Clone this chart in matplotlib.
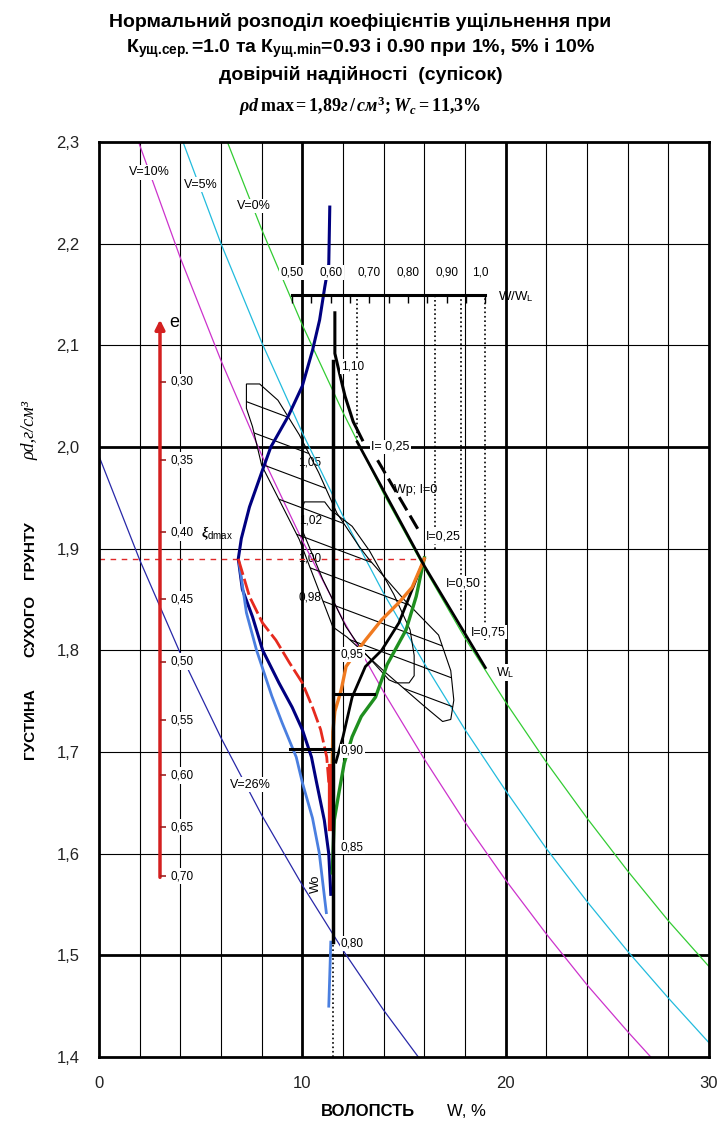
import matplotlib
matplotlib.use('Agg')
import matplotlib.pyplot as plt
from matplotlib import font_manager
from matplotlib.patches import Polygon
import numpy as np

names = {f.name for f in font_manager.fontManager.ttflist}
NARROW = 'Liberation Sans Narrow' if 'Liberation Sans Narrow' in names else 'Liberation Sans'
SANS = 'Liberation Sans'
SERIF = 'Liberation Serif'

plt.rcParams['font.family'] = [SANS, 'DejaVu Sans']
plt.rcParams['mathtext.fontset'] = 'custom'
plt.rcParams['mathtext.rm'] = SERIF + ':bold'
plt.rcParams['mathtext.it'] = SERIF + ':italic:bold'
plt.rcParams['mathtext.bf'] = SERIF + ':bold'

# ---------- saturation lines (W, %  ->  rho_d) ----------
v0_w = [6, 8, 10, 12, 14, 16, 18, 20, 22, 24, 26, 28, 30]
v0_rho = [2.316, 2.214, 2.120, 2.034, 1.954, 1.881, 1.812, 1.749, 1.690, 1.635, 1.583, 1.534, 1.489]
v5_w = [2, 4, 6, 8, 10, 12, 14, 16, 18, 20, 22, 24, 26, 28, 30]
v5_rho = [2.425, 2.307, 2.200, 2.103, 2.014, 1.932, 1.856, 1.787, 1.722, 1.662, 1.605, 1.553, 1.504, 1.458, 1.414]
v10_w = [0, 2, 4, 6, 8, 10, 12, 14, 16, 18, 20, 22, 24, 26, 28]
v10_rho = [2.421, 2.297, 2.186, 2.085, 1.992, 1.908, 1.830, 1.759, 1.693, 1.631, 1.574, 1.521, 1.471, 1.425, 1.381]
v26_w = [0, 2, 4, 6, 8, 10, 12, 14, 16]
v26_rho = [1.991, 1.889, 1.797, 1.714, 1.638, 1.569, 1.505, 1.446, 1.392]

v_labels = ['V=0%', 'V=5%', 'V=10%', 'V=26%']
v_label_x = [7.6, 5.0, 2.5, 7.45]
v_label_y = [2.237, 2.258, 2.270, 1.668]

# ---------- void ratio scale ----------
e_vals = [0.30, 0.35, 0.40, 0.45, 0.50, 0.55, 0.60, 0.65, 0.70]
e_rho = [2.064, 1.987, 1.916, 1.850, 1.789, 1.731, 1.677, 1.626, 1.578]
e_arrow_x = 3.0
e_arrow_y = (1.574, 2.128)

# ---------- W/WL scale ----------
wl_ratio = [0.50, 0.60, 0.70, 0.80, 0.90, 1.0]
wl_label_x = [9.5, 11.4, 13.3, 15.2, 17.1, 18.75]
wl_line_x = (9.5, 19.0)
wl_line_y = 2.15
wl_minor_x = [9.5, 10.45, 11.4, 12.35, 13.3, 14.25, 15.2, 16.15, 17.1, 18.05, 19.0]
dotted_x = [12.7, 16.5, 17.8, 19.0]
dotted_bottom = [2.005, 1.90, 1.84, 1.81]

# ---------- compaction coefficient scale ----------
rho_max = 1.89
k_line_x = 11.5
k_line_y = (1.513, 2.085)
k_right = [1.10, 0.95, 0.90, 0.85, 0.80]
k_left = [1.05, 1.02, 1.00, 0.98]

# ---------- normal distribution curves ----------
navy_x = [11.35, 11.3, 11.1, 10.85, 10.5, 10.0, 9.3, 8.45, 8.0, 7.4, 7.0, 6.85,
          7.05, 7.55, 8.05, 8.85, 9.5, 10.0, 10.45, 10.7, 11.08, 11.3, 11.4]
navy_y = [2.236, 2.18, 2.157, 2.125, 2.095, 2.06, 2.03, 2.0, 1.975, 1.941, 1.91, 1.89,
          1.86, 1.833, 1.80, 1.768, 1.744, 1.722, 1.695, 1.67, 1.633, 1.60, 1.56]
lblue_x = [6.9, 7.25, 7.75, 8.5, 9.0, 9.7, 10.0, 10.5, 10.83, 11.18]
lblue_y = [1.885, 1.837, 1.80, 1.755, 1.729, 1.695, 1.67, 1.635, 1.601, 1.542]
lblue2_x = [11.4, 11.3]
lblue2_y = [1.513, 1.45]
red_x = [6.85, 7.4, 8.04, 8.7, 9.36, 10.0, 10.5, 10.9, 11.2, 11.3]
red_y = [1.89, 1.853, 1.827, 1.81, 1.788, 1.768, 1.744, 1.722, 1.695, 1.67]
red_bar_x = 11.4
red_bar_y = (1.625, 1.685)

orange_x = [16.0, 15.4, 14.75, 13.9, 13.1, 12.6, 12.15, 11.9, 11.6, 11.5, 11.47]
orange_y = [1.89, 1.862, 1.847, 1.83, 1.81, 1.797, 1.784, 1.76, 1.74, 1.72, 1.69]
green_x = [16.0, 15.6, 15.1, 14.17, 13.6, 12.9, 12.45, 12.06, 11.8, 11.57, 11.47]
green_y = [1.891, 1.853, 1.82, 1.786, 1.754, 1.735, 1.715, 1.689, 1.66, 1.633, 1.581]
black_low_x = [16.0, 14.75, 13.9, 13.1, 12.45, 12.0, 11.65]
black_low_y = [1.89, 1.827, 1.80, 1.784, 1.754, 1.715, 1.69]

# ---------- consistency line ----------
upper_x = [11.6, 11.6, 11.8, 12.1, 12.5, 12.95]
upper_y = [2.132, 2.092, 2.075, 2.05, 2.025, 2.007]
wp_x = [13.7, 15.75]
wp_y = [1.987, 1.917]
wl_x = [12.7, 16.0, 19.0]
wl_y = [2.005, 1.883, 1.783]
i_labels = ['I= 0,25', 'Wp; I=0', 'I=0,25', 'I=0,50', 'I=0,75', 'W$_\\mathregular{L}$']
i_label_x = [13.4, 14.5, 16.1, 17.05, 18.3, 19.5]
i_label_y = [2.0, 1.958, 1.912, 1.866, 1.818, 1.778]

bar_y = [1.757, 1.703]
bar_x0 = [11.5, 9.4]
bar_x1 = [13.5, 11.5]

# ---------- data clouds ----------
shapeA = [(7.25, 2.062), (7.9, 2.062), (8.8, 2.046), (9.85, 2.012), (10.8, 1.975),
          (11.7, 1.935), (12.8, 1.902), (13.3, 1.889), (15.0, 1.85), (16.7, 1.815),
          (17.3, 1.78), (17.45, 1.751), (17.3, 1.732), (16.9, 1.73), (16.0, 1.745),
          (14.1, 1.778), (12.2, 1.813), (11.5, 1.823), (9.85, 1.909), (8.0, 1.982),
          (7.55, 2.02), (7.25, 2.038)]
shapeB = [(10.1, 1.946), (11.1, 1.946), (11.4, 1.938), (12.45, 1.922), (13.3, 1.898),
          (14.5, 1.855), (15.3, 1.82), (15.5, 1.795), (15.5, 1.775), (15.25, 1.768),
          (14.6, 1.768), (14.26, 1.771), (12.95, 1.80), (12.15, 1.823), (11.0, 1.87),
          (10.0, 1.918), (10.0, 1.94)]

fig = plt.figure(figsize=(7.21, 11.35), dpi=100)
ax = fig.add_axes([99 / 721, 1 - 1057 / 1135, 610 / 721, 915 / 1135])
ax.set_xlim(0, 30)
ax.set_ylim(1.4, 2.3)

# grid
for x in [2, 4, 6, 8, 12, 14, 16, 18, 22, 24, 26, 28]:
    ax.axvline(x, color='black', lw=0.8, zorder=1.5)
for x in [10, 20]:
    ax.axvline(x, color='black', lw=2.0, zorder=1.5)
for y in [1.6, 1.7, 1.8, 1.9, 2.1, 2.2]:
    ax.axhline(y, color='black', lw=0.8, zorder=1.5)
for y in [1.5, 2.0]:
    ax.axhline(y, color='black', lw=2.0, zorder=1.5)
for s in ax.spines.values():
    s.set_linewidth(2.0)

yt = [1.4, 1.5, 1.6, 1.7, 1.8, 1.9, 2.0, 2.1, 2.2, 2.3]
ax.set_yticks(yt)
ax.set_yticklabels([f'{v:.1f}'.replace('.', ',') for v in yt], fontsize=12, family=NARROW,
                   color='#222222')
ax.set_xticks([0, 10, 20, 30])
ax.set_xticklabels(['0', '10', '20', '30'], fontsize=12, family=NARROW, color='#222222')
ax.tick_params(length=0, pad=14)

# saturation lines
ax.plot(v0_w, v0_rho, color='#33cc33', lw=0.9, zorder=2)
ax.plot(v5_w, v5_rho, color='#22bbdd', lw=0.9, zorder=2)
ax.plot(v10_w, v10_rho, color='#cc33cc', lw=0.9, zorder=2)
ax.plot(v26_w, v26_rho, color='#2828a8', lw=0.9, zorder=2)
lab_box = dict(facecolor='white', edgecolor='none', pad=1.0)
for t, x, y in zip(v_labels, v_label_x, v_label_y):
    ax.text(x, y, t, fontsize=9, ha='center', va='center', bbox=lab_box, zorder=5)

# data clouds with hatching
pa = Polygon(shapeA, closed=True, fill=False, edgecolor='black', lw=0.8, zorder=2.5)
ax.add_patch(pa)
ax.add_patch(Polygon(shapeB, closed=True, fill=False, edgecolor='black', lw=0.8, zorder=2.5))
hx = np.array([6.0, 18.5])
for c in np.arange(1.875, 2.12, 0.028):
    ln, = ax.plot(hx, c - 0.0075 * hx, color='black', lw=0.8, zorder=2.5)
    ln.set_clip_path(pa)

# rho_d max level
ax.plot([0, 16.0], [rho_max, rho_max], color='#e02828', lw=1.0, ls=(0, (4, 4)), zorder=2.2)

# void ratio scale
ax.annotate('', xy=(e_arrow_x, e_arrow_y[1]), xytext=(e_arrow_x, e_arrow_y[0]),
            arrowprops=dict(arrowstyle='-|>', color='#d42020', lw=2.5, mutation_scale=14),
            zorder=4)
ax.plot([3.15] * len(e_rho), e_rho, ls='none', marker='_', ms=4, mew=1.2, color='#a02020', zorder=4)
for e, r in zip(e_vals, e_rho):
    ax.text(3.5, r, f'{e:.2f}'.replace('.', ','), fontsize=8.5, ha='left', va='center',
            bbox=dict(facecolor='white', edgecolor='none', pad=1.5), zorder=5)
ax.text(3.45, 2.122, 'e', fontsize=13, ha='left', va='center', zorder=5)
ax.text(5.0, 1.915, r'$\xi_{\mathregular{dmax}}$', fontsize=10, ha='left', va='center', zorder=5)

# W/WL scale
ax.plot(wl_line_x, [wl_line_y, wl_line_y], color='black', lw=2.2, zorder=4)
ax.vlines(wl_minor_x, wl_line_y - 0.008, wl_line_y, color='black', lw=1.0, zorder=4)
ax.vlines(dotted_x, dotted_bottom, wl_line_y, color='black', lw=1.2, linestyles=':', zorder=2)
for t, x in zip(wl_ratio, wl_label_x):
    ax.text(x, 2.172, f'{t:.2f}'.replace('.', ',') if t < 1 else '1,0', fontsize=8.5,
            ha='center', va='center', bbox=lab_box, zorder=5)
ax.text(19.6, 2.148, 'W/W$_\\mathregular{L}$', fontsize=9.5, ha='left', va='center', zorder=5)

# distribution curves
ax.plot(navy_x, navy_y, color='#000080', lw=2.2, zorder=3)
ax.plot(lblue_x, lblue_y, color='#4a7fe0', lw=2.0, zorder=3)
ax.plot(lblue2_x, lblue2_y, color='#4a7fe0', lw=2.0, zorder=3)
ax.plot(red_x, red_y, color='#e62a1e', lw=2.0, ls=(0, (6, 1.5)), zorder=3)
ax.plot([red_bar_x, red_bar_x], red_bar_y, color='#e62a1e', lw=4.5, zorder=3)
ax.plot(orange_x, orange_y, color='#f07a20', lw=2.4, zorder=3.2)
ax.plot(green_x, green_y, color='#1f8f1f', lw=2.4, zorder=3.1)
ax.plot(black_low_x, black_low_y, color='black', lw=2.0, zorder=3)

# compaction coefficient scale
ax.plot([k_line_x, k_line_x], k_line_y, color='black', lw=2.5, zorder=3.5)
ax.plot([k_line_x, k_line_x], [1.4, k_line_y[0]], color='black', lw=1.2, ls=':', zorder=3)
for k in k_right:
    ax.text(11.9, k * rho_max, f'{k:.2f}'.replace('.', ','), fontsize=8.5, ha='left',
            va='center', bbox=lab_box, zorder=5)
for k in k_left:
    ax.text(10.95, k * rho_max, f'{k:.2f}'.replace('.', ','), fontsize=8.5, ha='right',
            va='center', zorder=1)
ax.text(10.65, 1.57, 'Wo', fontsize=9, rotation=90, ha='center', va='center', zorder=5)

# consistency line
ax.plot(upper_x, upper_y, color='black', lw=2.2, zorder=3.5)
ax.plot(wp_x, wp_y, color='black', lw=2.2, ls=(0, (5, 2)), zorder=3.5)
ax.plot(wl_x, wl_y, color='black', lw=2.0, zorder=3.5)
for t, x, y in zip(i_labels, i_label_x, i_label_y):
    box = None if t.startswith('Wp') else dict(facecolor='white', edgecolor='none', pad=0.8)
    ax.text(x, y, t, fontsize=9, ha='left', va='center', bbox=box, zorder=5)

for y, a, b in zip(bar_y, bar_x0, bar_x1):
    ax.plot([a, b], [y, y], color='black', lw=2.2, zorder=3.5)

# titles
fig.text(0.5, 1 - 22 / 1135, 'Нормальний розподіл коефіцієнтів ущільнення при',
         ha='center', va='center', fontsize=14, weight='bold', family=NARROW)
fig.text(0.5, 1 - 48 / 1135,
         'К$_\\mathregular{ущ.\\!сер.}$=1.0 та К$_\\mathregular{ущ.\\!min}$=0.93 і 0.90 при 1%, 5% і 10%',
         ha='center', va='center', fontsize=14, weight='bold', family=NARROW)
fig.text(0.5, 1 - 75 / 1135, 'довірчій надійності  (супісок)',
         ha='center', va='center', fontsize=14, weight='bold', family=NARROW)
fig.text(0.5, 1 - 106 / 1135,
         r'$\rho d\,\max=1{,}89\mathit{г}\,/\,\mathit{см}^3;W_c=11{,}3\%$',
         ha='center', va='center', fontsize=13)

# axis titles
for t, yp in [('ГУСТИНА', 724), ('СУХОГО', 626), ('ГРУНТУ', 550)]:
    fig.text(30 / 721, 1 - yp / 1135, t, rotation=90, ha='center', va='center',
             fontsize=11, weight='bold', family=NARROW)
fig.text(30 / 721, 1 - 430 / 1135, 'ρd,г/см³', rotation=90, ha='center', va='center',
         fontsize=13, style='italic', family=SERIF)
fig.text(368 / 721, 1 - 1112 / 1135, 'ВОЛОПСТЬ', ha='center', va='center',
         fontsize=12, weight='bold', family=NARROW)
fig.text(466 / 721, 1 - 1112 / 1135, 'W, %', ha='center', va='center',
         fontsize=12, family=NARROW)

fig.savefig('out.png', dpi=100)
